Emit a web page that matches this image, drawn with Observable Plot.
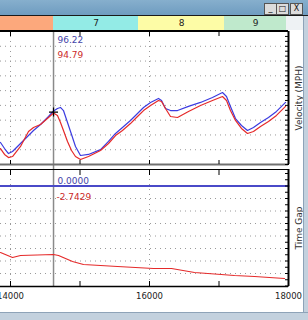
<!DOCTYPE html>
<html><head><meta charset="utf-8">
<script src="https://cdn.jsdelivr.net/npm/d3@7"></script>
<script src="https://cdn.jsdelivr.net/npm/@observablehq/plot@0.6"></script>
<style>
body{margin:0;width:308px;height:320px;overflow:hidden;background:#fff;position:relative;font-family:"DejaVu Sans",sans-serif;}
.abs{position:absolute;}
.btn{position:absolute;top:3px;width:11px;height:10px;background:#dcdcdc;border:1px solid #555;font-size:8px;line-height:10px;text-align:center;color:#111;}
</style></head><body>
<script>
// ---- data ----
const dist = [13856,13914,13971,14029,14144,14259,14331,14432,14547,14619,14676,14719,14762,14820,14878,14935,15007,15122,15295,15410,15511,15611,15726,15813,15914,16015,16129,16173,16230,16302,16403,16561,16734,16906,17050,17108,17165,17237,17323,17410,17496,17597,17712,17827,17957];
const blueVel = [74.9,70.8,67.4,68.8,74.2,79.6,83.0,87.1,92.5,96.2,97.9,98.6,96.5,88.4,80.3,72.2,66.1,66.8,70.1,75.6,81.0,85.0,89.8,93.8,98.6,102.0,104.7,103.3,97.9,96.5,96.5,99.3,102.0,105.3,108.7,106.0,99.3,91.1,86.4,83.0,85.0,88.4,91.8,95.9,102.0];
const redVel = [70.8,66.8,64.7,65.4,72.2,82.3,85.0,87.1,91.8,94.8,93.2,88.4,83.0,75.6,69.5,65.4,63.4,65.4,69.5,74.2,79.6,83.0,87.7,91.8,96.5,99.9,103.3,102.6,97.9,92.5,91.8,95.9,99.9,103.3,106.0,103.3,96.5,89.8,84.4,81.0,82.3,85.7,89.1,93.2,99.3];
const gapDist = [13856,14029,14144,14619,14691,14892,15050,15540,16058,16317,16648,17223,17511,17943];
const redGap = [-2.66,-2.86,-2.78,-2.74,-2.78,-3.02,-3.14,-3.22,-3.30,-3.30,-3.46,-3.58,-3.62,-3.70];
const blueGapDist = [13856,18000];
const blueGap = [0,0];
const segStart = [12800,14619,15842,17079];
const segEnd = [14619,15842,17079,17971];
const segLabel = ["6","7","8","9"];
const segColor = ["#fca87c","#93ebe6","#fdfca6","#bfe9cc"];
const cursorDist = 14619;
const velReadout = ["96.22","94.79"];
const gapReadout = ["0.0000","-2.7429"];
const xTicksMajor = [14000,16000,18000];
const xTicksAll = [14000,15000,16000,17000,18000];
const xDomain = [13856,18000];

const BLUE = "#3b3be0", RED = "#e52a2a";
const BLUE_T = "#4444a8", RED_T = "#cc2a2a";
const grid = {stroke:"#9a9a9a", strokeOpacity:1, strokeDasharray:"1,4"};
const style = {fontFamily:"DejaVu Sans", fontSize:"8.5px", color:"#222", background:"transparent"};
const tickOnly = {fill:"none", label:null, stroke:"#000"};

const velRows = dist.map((d,i)=>({d, b: blueVel[i], r: redVel[i]}));
const gapRows = gapDist.map((d,i)=>({d, v: redGap[i]}));
const blueGapRows = blueGapDist.map((d,i)=>({d, v: blueGap[i]}));
const segRows = segStart.map((s,i)=>({s, e: segEnd[i], label: segLabel[i], c: segColor[i]}));

function place(el, top){ const w=document.createElement("div"); w.className="abs"; w.style.left="0px"; w.style.top=top+"px"; w.appendChild(el); document.body.appendChild(w); }

// segment bar
place(Plot.plot({
  width:308, height:14, marginLeft:0, marginRight:20, marginTop:0, marginBottom:0,
  x:{domain:xDomain, axis:null}, y:{axis:null}, style,
  marks:[
    Plot.rectX(segRows, {x1:"s", x2:"e", fill:"c"}),
    Plot.text(segRows, {filter:d=>d.s>=xDomain[0], x:d=>(d.s+d.e)/2, text:"label", frameAnchor:"middle", fill:"#222", fontSize:9})
  ]
}), 16);

// velocity panel
place(Plot.plot({
  width:308, height:137, marginLeft:0, marginRight:20, marginTop:2, marginBottom:2,
  x:{domain:xDomain, label:null}, y:{domain:[60,150], label:null}, style,
  marks:[
    Plot.gridY(d3.range(70,150,10), grid),
    Plot.gridX(xTicksMajor.slice(0,2), grid),
    Plot.ruleX([cursorDist], {stroke:"#8a8a8a", strokeWidth:1.5, insetBottom:-2}),
    Plot.line(velRows, {x:"d", y:"b", stroke:BLUE, strokeWidth:1.2}),
    Plot.line(velRows, {x:"d", y:"r", stroke:RED, strokeWidth:1.2}),
    Plot.dot([{d:cursorDist, v:95.5}], {x:"d", y:"v", symbol:"plus", r:3, stroke:"#000", strokeWidth:1.2}),
    Plot.text([velReadout[0]], {x:[cursorDist], frameAnchor:"top", textAnchor:"start", lineAnchor:"top", dx:4, dy:5, fill:BLUE_T, fontSize:9}),
    Plot.text([velReadout[1]], {x:[cursorDist], frameAnchor:"top", textAnchor:"start", lineAnchor:"top", dx:4, dy:20, fill:RED_T, fontSize:9}),
    Plot.ruleY([150], {stroke:"#000"}),
    Plot.ruleY([60], {stroke:"#707070", strokeWidth:2}),
    Plot.ruleX([18000], {stroke:"#000", strokeWidth:2}),
    Plot.axisX({anchor:"top", ticks:xTicksAll, tickSize:-4, ...tickOnly}),
    Plot.axisX({anchor:"bottom", ticks:xTicksAll, tickSize:-4, ...tickOnly}),
    Plot.axisY({anchor:"right", ticks:d3.range(60,151,10/3), tickSize:-4, ...tickOnly}),
    Plot.text(["Velocity (MPH)"], {frameAnchor:"right", textAnchor:"middle", rotate:-90, dx:11, fill:"#333", fontSize:9})
  ]
}), 29);

// time gap panel
place(Plot.plot({
  width:308, height:136, marginLeft:0, marginRight:20, marginTop:3, marginBottom:16,
  x:{domain:xDomain, label:null}, y:{domain:[-4.02,0.66], label:null}, style,
  marks:[
    Plot.gridY(d3.range(-3.5,0.01,0.5), grid),
    Plot.gridX(xTicksMajor.slice(0,2), grid),
    Plot.ruleX([cursorDist], {stroke:"#8a8a8a", strokeWidth:1.5, insetTop:-3}),
    Plot.line(blueGapRows, {x:"d", y:"v", stroke:"#4a4ac8", strokeWidth:2}),
    Plot.line(gapRows, {x:"d", y:"v", stroke:RED, strokeWidth:1.2}),
    Plot.text([gapReadout[0]], {x:[cursorDist], frameAnchor:"top", textAnchor:"start", lineAnchor:"top", dx:4, dy:8, fill:BLUE_T, fontSize:9}),
    Plot.text([gapReadout[1]], {x:[cursorDist], frameAnchor:"top", textAnchor:"start", lineAnchor:"top", dx:3, dy:24, fill:RED_T, fontSize:9}),
    Plot.ruleY([0.66], {stroke:"#000"}),
    Plot.ruleY([-4.02], {stroke:"#000", strokeWidth:1.5}),
    Plot.ruleX([18000], {stroke:"#000", strokeWidth:2}),
    Plot.axisX({anchor:"top", ticks:xTicksAll, tickSize:-5, ...tickOnly}),
    Plot.axisX({anchor:"bottom", ticks:xTicksAll, tickSize:-5, ...tickOnly}),
    Plot.axisX({anchor:"bottom", ticks:xTicksMajor, tickSize:0, tickPadding:6, tickFormat:d=>String(d), fill:"#222", label:null}),
    Plot.axisY({anchor:"right", ticks:d3.range(-4,0.7,0.25), tickSize:-4, ...tickOnly}),
    Plot.text(["Time Gap"], {frameAnchor:"right", textAnchor:"middle", rotate:-90, dx:11, fill:"#333", fontSize:9})
  ]
}), 166);
</script>
<div class="abs" style="left:0;top:0;width:308px;height:15px;background:linear-gradient(#86afcd,#6f9cc0);border-bottom:1px solid #1a1a1a;"></div>
<div class="btn" style="left:264px;">_</div>
<div class="btn" style="left:276px;">□</div>
<div class="btn" style="left:290px;">X</div>
<div class="abs" style="left:286px;top:16px;width:17px;height:14px;background:#eef2f4;"></div>
<div class="abs" style="left:0;top:30px;width:288px;height:1px;background:#000;"></div>
<div class="abs" style="left:303px;top:16px;width:5px;height:304px;background:linear-gradient(90deg,#8ea3b8 0 1px,#c3d1de 1px);"></div>
<div class="abs" style="left:0;top:312px;width:308px;height:8px;background:linear-gradient(#8ea3b8 0 1px,#c3d1de 1px);"></div>
</body></html>
